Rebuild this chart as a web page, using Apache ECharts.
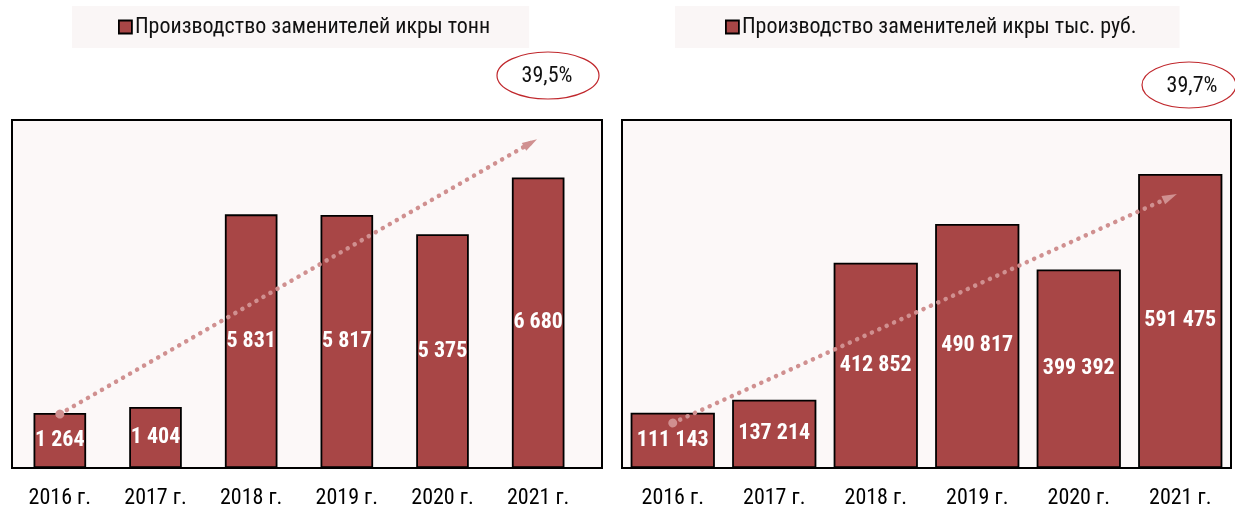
<!DOCTYPE html>
<html>
<head>
<meta charset="utf-8">
<script src="https://cdn.jsdelivr.net/npm/echarts@6/dist/echarts.min.js"></script>
<style>
  html, body { margin: 0; padding: 0; background: #fff; }
  #chart { width: 1235px; height: 510px; }
</style>
</head>
<body>
<div id="chart"></div>
<script>
var years = ['2016 г.', '2017 г.', '2018 г.', '2019 г.', '2020 г.', '2021 г.'];
var tons = [1264, 1404, 5831, 5817, 5375, 6680];
var rubles = [111143, 137214, 412852, 490817, 399392, 591475];
var tonsName = 'Производство заменителей икры тонн';
var rublesName = 'Производство заменителей икры тыс. руб.';
// trend arrows: [category position, value] start and end
var tonsTrend = [[0, 1240], [4.92, 7470]];
var rublesTrend = [[0, 90500], [4.9, 545000]];
var tonsGrowth = '39,5%';
var rublesGrowth = '39,7%';

var barColor = '#a84646';
var trendColor = '#d09090';
var font = '"Roboto Condensed", "Liberation Sans", sans-serif';

function fmt(v) {
    return String(v).replace(/\B(?=(\d{3})+(?!\d))/g, ' ');
}

var chart = echarts.init(document.getElementById('chart'));

function catAxis(idx) {
    return {
        type: 'category',
        gridIndex: idx,
        data: years,
        axisTick: { show: false },
        axisLine: { show: false },
        axisLabel: { color: '#000', fontFamily: font, fontSize: 22, margin: 19 }
    };
}

function valAxis(idx, max) {
    return {
        type: 'value',
        gridIndex: idx,
        min: 0,
        max: max,
        show: false,
        splitLine: { show: false }
    };
}

function trendAxis(idx) {
    return {
        type: 'value',
        gridIndex: idx,
        min: -0.5,
        max: 5.5,
        show: false,
        splitLine: { show: false }
    };
}

function barSeries(name, data, idx, width) {
    return {
        name: name,
        type: 'bar',
        xAxisIndex: idx,
        yAxisIndex: idx,
        data: data,
        barWidth: width,
        itemStyle: { color: barColor, borderColor: '#000', borderWidth: 1.8 },
        label: {
            show: true,
            position: 'inside',
            color: '#fff',
            fontFamily: font,
            fontWeight: 'bold',
            fontSize: 22,
            formatter: function (p) { return fmt(p.value); }
        }
    };
}

function trendSeries(data, xIdx, yIdx) {
    return {
        type: 'line',
        xAxisIndex: xIdx,
        yAxisIndex: yIdx,
        data: [],
        silent: true,
        markLine: {
            silent: true,
            symbol: ['circle', 'triangle'],
            symbolSize: [9, 15],
            lineStyle: { color: trendColor, type: [0.1, 8], cap: 'round', width: 4.5 },
            label: { show: false },
            data: [[{ coord: data[0] }, { coord: data[1] }]]
        }
    };
}

function legendBox(name, left, padL, padR) {
    return {
        data: [name],
        left: left, top: 6,
        padding: [10, padR, 10, padL],
        backgroundColor: '#faf6f6',
        icon: 'rect', itemWidth: 13, itemHeight: 13, itemGap: 4,
        itemStyle: { borderColor: '#000', borderWidth: 1.8 },
        textStyle: { fontFamily: font, fontSize: 22, color: '#111', padding: [0, 0, 0, -2] }
    };
}

var option = {
    animation: false,
    legend: [
        legendBox(tonsName, 72, 46, 39),
        legendBox(rublesName, 675, 50, 43)
    ],
    grid: [
        { left: 12, top: 120, width: 574, height: 348, show: false },
        { left: 622, top: 120, width: 609, height: 348, show: true, backgroundColor: '#fcf8f8', borderColor: '#000', borderWidth: 2 }
    ],
    xAxis: [catAxis(0), catAxis(1), trendAxis(0), trendAxis(1)],
    yAxis: [valAxis(0, 8000), valAxis(1, 700000)],
    series: [
        barSeries(tonsName, tons, 0, '55%'),
        barSeries(rublesName, rubles, 1, '83%'),
        trendSeries(tonsTrend, 2, 0),
        trendSeries(rublesTrend, 3, 1)
    ],
    graphic: [
        {
            type: 'rect', z: -1,
            shape: { x: 12, y: 120, width: 590, height: 348 },
            style: { fill: '#fcf8f8', stroke: '#000', lineWidth: 2 }
        },
        {
            type: 'ellipse',
            shape: { cx: 548, cy: 75.5, rx: 51, ry: 23.5 },
            style: { fill: '#fff', stroke: '#c0282d', lineWidth: 1.2 }
        },
        {
            type: 'text', x: 547, y: 76,
            style: { text: tonsGrowth, fontFamily: font, fontSize: 22, fill: '#111', align: 'center', verticalAlign: 'middle' }
        },
        {
            type: 'ellipse',
            shape: { cx: 1189, cy: 85, rx: 47, ry: 23 },
            style: { fill: '#fff', stroke: '#c0282d', lineWidth: 1.2 }
        },
        {
            type: 'text', x: 1192, y: 86,
            style: { text: rublesGrowth, fontFamily: font, fontSize: 22, fill: '#111', align: 'center', verticalAlign: 'middle' }
        }
    ]
};

chart.setOption(option);
</script>
</body>
</html>
